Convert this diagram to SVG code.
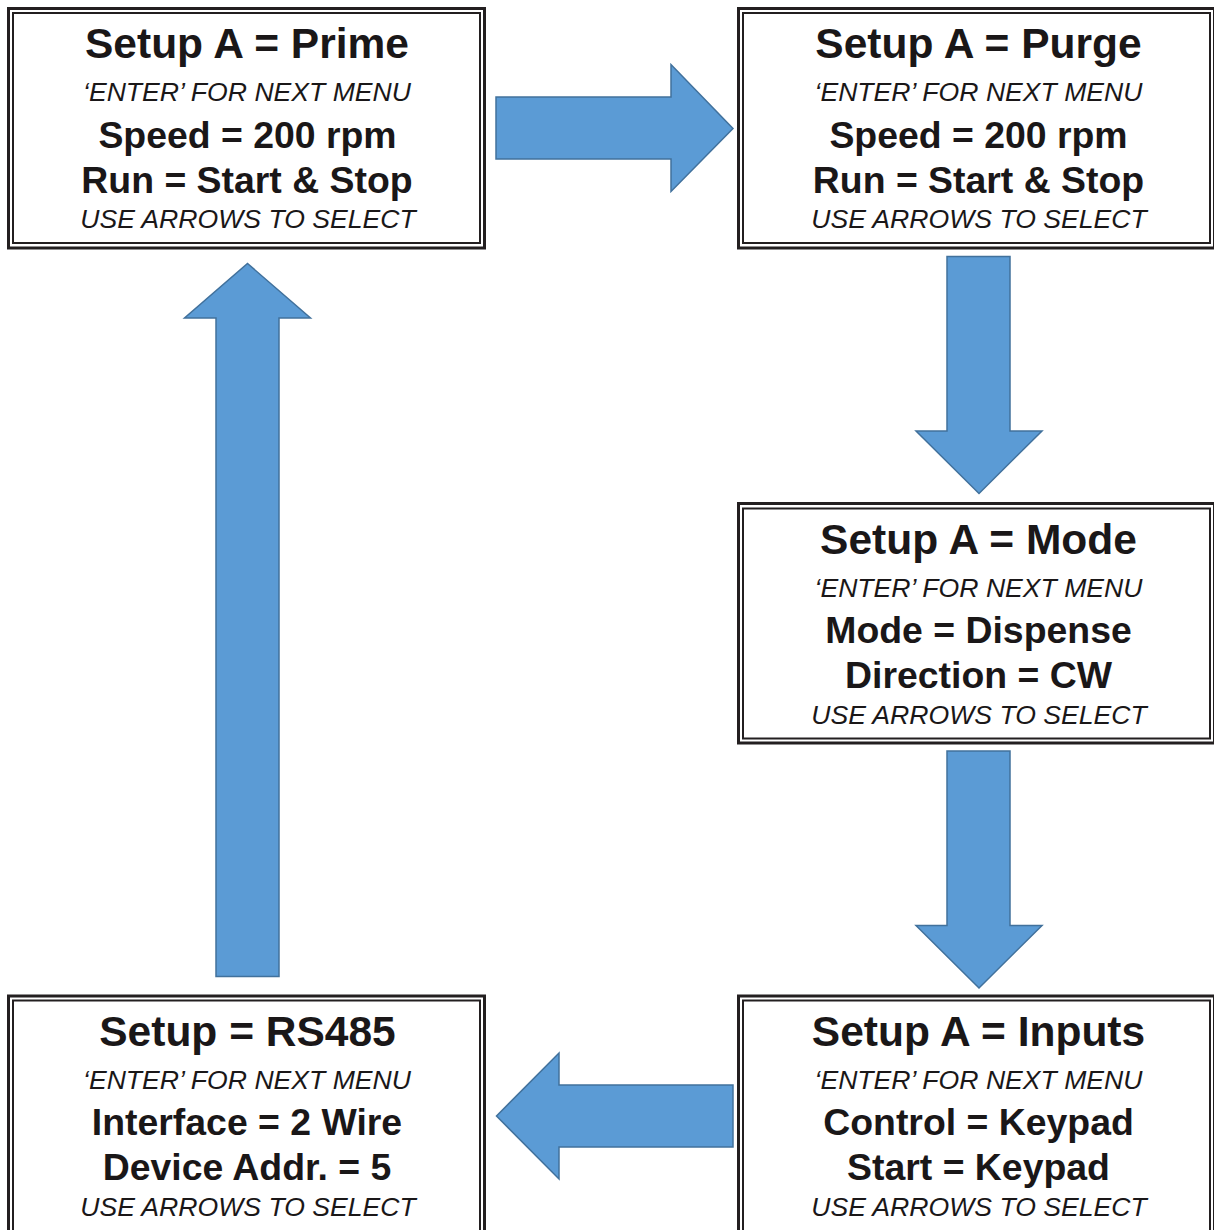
<svg xmlns="http://www.w3.org/2000/svg" width="1214" height="1230" viewBox="0 0 1214 1230">
<style>
.bg{fill:#ffffff}
.outer{fill:none;stroke:#231f20;stroke-width:3}
.inner{fill:none;stroke:#231f20;stroke-width:2}
.arrow{fill:#5b9bd5;stroke:#41719c;stroke-width:1.5;stroke-linejoin:miter}
text{font-family:"Liberation Sans",Arial,sans-serif;fill:#1a1718;text-anchor:middle}
.t{font-weight:bold;font-size:42.5px}
.b{font-weight:bold;font-size:37.4px}
.i{font-style:italic;font-size:26.6px}
</style>
<rect class="bg" x="0" y="0" width="1214" height="1230"/>
<g id="connectors">
<polygon class="arrow" points="496,97 671,97 671,64.5 733,128.5 671,191.5 671,159 496,159"/>
<polygon class="arrow" points="947,256.5 1010,256.5 1010,431 1042,431 979,493.5 916,431 947,431"/>
<polygon class="arrow" points="947,751 1010,751 1010,925.5 1042,925.5 979,988 916,925.5 947,925.5"/>
<polygon class="arrow" points="733,1085 559,1085 559,1053 496.5,1116 559,1179 559,1147 733,1147"/>
<polygon class="arrow" points="216,976.5 279,976.5 279,318 310.5,318 247.5,263.5 184.5,318 216,318"/>
</g>
<g id="node-prime">
<rect class="outer" x="8.5" y="8.5" width="476" height="239.5"/>
<rect class="inner" x="13" y="13" width="467" height="230"/>
<text class="t" x="247" y="58">Setup A = Prime</text>
<text class="i" x="247" y="101">‘ENTER’ FOR NEXT MENU</text>
<text class="b" x="247.5" y="148">Speed = 200 rpm</text>
<text class="b" x="247" y="193">Run = Start &amp; Stop</text>
<text class="i" x="248" y="228">USE ARROWS TO SELECT</text>
</g>
<g id="node-purge">
<rect class="outer" x="738.5" y="8.5" width="476" height="239.5"/>
<rect class="inner" x="743" y="13" width="467" height="230"/>
<text class="t" x="978.5" y="58">Setup A = Purge</text>
<text class="i" x="978.5" y="101">‘ENTER’ FOR NEXT MENU</text>
<text class="b" x="978.5" y="148">Speed = 200 rpm</text>
<text class="b" x="978.5" y="193">Run = Start &amp; Stop</text>
<text class="i" x="979" y="228">USE ARROWS TO SELECT</text>
</g>
<g id="node-mode">
<rect class="outer" x="738.5" y="503.5" width="476" height="239.5"/>
<rect class="inner" x="743" y="508.5" width="467" height="230"/>
<text class="t" x="978.5" y="554">Setup A = Mode</text>
<text class="i" x="978.5" y="597">‘ENTER’ FOR NEXT MENU</text>
<text class="b" x="978.5" y="643">Mode = Dispense</text>
<text class="b" x="978.5" y="688">Direction = CW</text>
<text class="i" x="979" y="724">USE ARROWS TO SELECT</text>
</g>
<g id="node-rs485">
<rect class="outer" x="8.5" y="996" width="476" height="260"/>
<rect class="inner" x="13" y="1000.5" width="467" height="260"/>
<text class="t" x="247.5" y="1045.5">Setup = RS485</text>
<text class="i" x="247" y="1088.5">‘ENTER’ FOR NEXT MENU</text>
<text class="b" x="247" y="1135">Interface = 2 Wire</text>
<text class="b" x="247" y="1180">Device Addr. = 5</text>
<text class="i" x="248" y="1216">USE ARROWS TO SELECT</text>
</g>
<g id="node-inputs">
<rect class="outer" x="738.5" y="996" width="476" height="260"/>
<rect class="inner" x="743" y="1000.5" width="467" height="260"/>
<text class="t" x="978.5" y="1045.5">Setup A = Inputs</text>
<text class="i" x="978.5" y="1088.5">‘ENTER’ FOR NEXT MENU</text>
<text class="b" x="978.5" y="1135">Control = Keypad</text>
<text class="b" x="978.5" y="1180">Start = Keypad</text>
<text class="i" x="979" y="1216">USE ARROWS TO SELECT</text>
</g>
</svg>
